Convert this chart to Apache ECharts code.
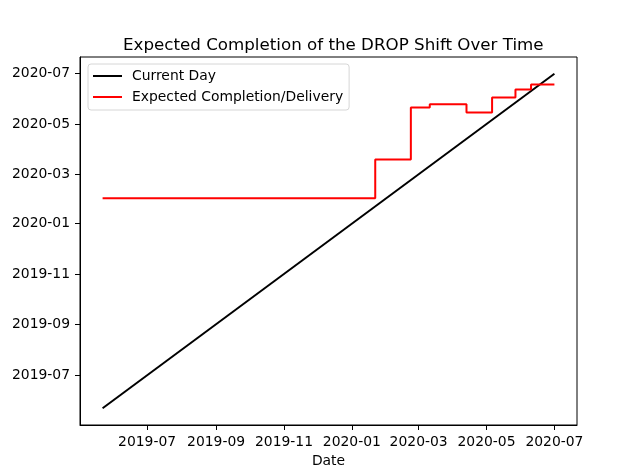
<!DOCTYPE html>
<html>
<head>
<meta charset="utf-8">
<script src="https://cdn.jsdelivr.net/npm/echarts@6/dist/echarts.min.js"></script>
<style>html,body{margin:0;padding:0;background:#fff}#c{width:640px;height:476px}</style>
</head>
<body>
<div id="c"></div>
<script>
// Data
const currentDays = ['2019-05-22', '2020-07-01'];
const changeDates = ['2019-05-22','2020-01-22','2020-02-23','2020-03-11','2020-04-13','2020-05-06','2020-05-27','2020-06-10','2020-07-01'];
const expectedDates = ['2020-02-01','2020-03-19','2020-05-21','2020-05-25','2020-05-15','2020-06-02','2020-06-12','2020-06-18','2020-06-18'];
const tickLabels = ['2019-07','2019-09','2019-11','2020-01','2020-03','2020-05','2020-07'];

function parseDate(s) {
  const p = s.split('-').map(Number);
  return Date.UTC(p[0], p[1] - 1, p[2] || 1);
}
const tickVals = tickLabels.map(parseDate);
const dataMin = parseDate(currentDays[0]);
const dataMax = parseDate(currentDays[currentDays.length - 1]);
const margin = (dataMax - dataMin) * 0.05;
const axMin = dataMin - margin, axMax = dataMax + margin;

function fmt(v) {
  const d = new Date(v);
  const m = d.getUTCMonth() + 1;
  return d.getUTCFullYear() + '-' + (m < 10 ? '0' + m : m);
}

const FONT = 'DejaVu Sans';
const FS = 13.9;

const chart = echarts.init(document.getElementById('c'), null, {renderer: 'canvas'});
function makeAxis() {
  return {
    type: 'value',
    min: axMin,
    max: axMax,
    scale: true,
    axisLine: {show: true, onZero: false, lineStyle: {color: '#000', width: 1}},
    axisTick: {show: true, inside: false, length: 5, lineStyle: {color: '#000', width: 1}, customValues: tickVals},
    axisLabel: {color: '#000', fontFamily: FONT, fontSize: FS, margin: 10, formatter: fmt, customValues: tickVals},
    splitLine: {show: false},
    minorTick: {show: false}
  };
}

chart.setOption({
  animation: false,
  backgroundColor: '#fff',
  title: {
    text: 'Expected Completion of the DROP Shift Over Time',
    left: 118, top: 32,
    textStyle: {fontFamily: FONT, fontSize: 16.7, fontWeight: 'normal', color: '#000'}
  },
  grid: {left: 80, right: 63, top: 57, bottom: 51, show: true, borderColor: '#000', borderWidth: 1, backgroundColor: 'transparent'},
  legend: {
    orient: 'vertical', left: 88, top: 64,
    padding: [5, 6, 6, 4],
    itemWidth: 29, itemHeight: 14, itemGap: 7,
    itemStyle: {opacity: 0},
    backgroundColor: '#fff', borderColor: '#d6d6d6', borderWidth: 1, borderRadius: 3,
    textStyle: {fontFamily: FONT, fontSize: FS, color: '#000', padding: [0, 0, 0, 5]},
    data: ['Current Day', 'Expected Completion/Delivery']
  },
  xAxis: Object.assign(makeAxis(), {
    name: 'Date', nameLocation: 'middle', nameGap: 28,
    nameTextStyle: {fontFamily: FONT, fontSize: FS, color: '#000'}
  }),
  yAxis: makeAxis(),
  series: [
    {
      name: 'Current Day', type: 'line', symbol: 'none', color: '#000',
      lineStyle: {color: '#000', width: 2},
      data: currentDays.map(d => [parseDate(d), parseDate(d)])
    },
    {
      name: 'Expected Completion/Delivery', type: 'line', symbol: 'none', color: '#ff0000',
      step: 'end',
      lineStyle: {color: '#ff0000', width: 2},
      data: changeDates.map((d, i) => [parseDate(d), parseDate(expectedDates[i])])
    }
  ]
});
</script>
</body>
</html>
